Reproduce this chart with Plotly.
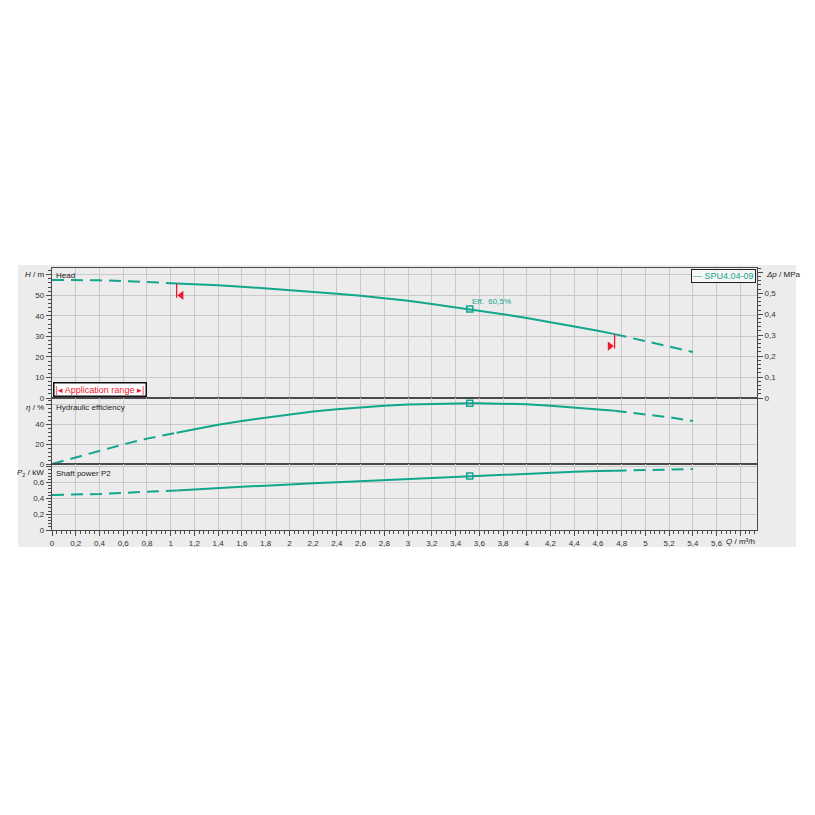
import plotly.graph_objects as go

# ---------------- data ----------------
Q = [0, 0.2, 0.4, 0.6, 0.8, 1.0, 1.05, 1.2, 1.4, 1.6, 1.8, 2.0, 2.2, 2.4, 2.6, 2.8,
     3.0, 3.2, 3.4, 3.52, 3.6, 3.8, 4.0, 4.2, 4.4, 4.6, 4.74, 4.8, 5.0, 5.2, 5.4]
HEAD = [57.5, 57.5, 57.3, 57.0, 56.6, 56.0, 55.8, 55.5, 54.9, 54.2, 53.4, 52.6, 51.7, 50.8,
        49.8, 48.6, 47.3, 45.8, 44.2, 43.3, 42.6, 40.8, 39.0, 37.0, 34.9, 32.7, 31.1, 30.3,
        28.0, 25.3, 22.4]
EFF = [0, 6.8, 13.4, 19.8, 25.6, 30.5, 31.6, 35.3, 39.6, 43.5, 46.8, 50.3, 53.0, 55.3,
       57.2, 58.8, 60.0, 60.8, 61.3, 61.4, 61.4, 61.0, 60.2, 58.8, 57.1, 55.2, 53.7, 52.9,
       50.4, 47.2, 43.4]
POWER = [0.443, 0.446, 0.455, 0.470, 0.484, 0.497, 0.500, 0.515, 0.534, 0.548, 0.560,
         0.578, 0.590, 0.603, 0.616, 0.631, 0.646, 0.660, 0.675, 0.684, 0.690, 0.701,
         0.713, 0.728, 0.737, 0.745, 0.749, 0.751, 0.757, 0.764, 0.772]

Q_MIN = 1.05          # application range start
Q_MAX = 4.74          # application range end
Q_BEP = 3.52          # duty point
EFF_LABEL = "Eff.  60,5%"
PUMP_NAME = "SPU4.04-09"

X_TICKVALS = [0, 0.2, 0.4, 0.6, 0.8, 1, 1.2, 1.4, 1.6, 1.8, 2, 2.2, 2.4, 2.6, 2.8, 3,
              3.2, 3.4, 3.6, 3.8, 4, 4.2, 4.4, 4.6, 4.8, 5, 5.2, 5.4, 5.6, 5.8]
X_TICKTEXT = ["0", "0,2", "0,4", "0,6", "0,8", "1", "1,2", "1,4", "1,6", "1,8", "2",
              "2,2", "2,4", "2,6", "2,8", "3", "3,2", "3,4", "3,6", "3,8", "4", "4,2",
              "4,4", "4,6", "4,8", "5", "5,2", "5,4", "5,6", " "]
H_TICKVALS = [0, 10, 20, 30, 40, 50, 60]
H_TICKTEXT = ["0", "10", "20", "30", "40", "50", " "]
E_TICKVALS = [0, 20, 40, 60]
E_TICKTEXT = ["0", "20", "40", " "]
P_TICKVALS = [0, 0.2, 0.4, 0.6, 0.8]
P_TICKTEXT = ["0", "0,2", "0,4", "0,6", " "]
DP_TICKVALS = [0, 0.1, 0.2, 0.3, 0.4, 0.5, 0.6]
DP_TICKTEXT = ["0", "0,1", "0,2", "0,3", "0,4", "0,5", " "]

M_PER_MPA = 101.97

# ---------------- styling ----------------
TEAL = "#12a68c"
RED = "#f0142d"
GRID = "#c9c9c9"
BG = "#ebebeb"
AXLINE = "#4a4a4a"
FONT = "Liberation Sans, Arial, sans-serif"
DASH = "12px,7px"

X_RANGE = [0, 5.94]
H_RANGE = [0, 63.3]
E_RANGE = [0, 66.6]
P_RANGE = [0, 0.835]
D1 = [0.5038, 1.0]
D2 = [0.2519, 0.5038]
D3 = [0.0, 0.2519]


def segments(q, v):
    left = [(a, b) for a, b in zip(q, v) if a <= Q_MIN]
    mid = [(a, b) for a, b in zip(q, v) if Q_MIN <= a <= Q_MAX]
    right = [(a, b) for a, b in zip(q, v) if a >= Q_MAX]
    return left, mid, right


fig = go.Figure()


def add_curve(vals, xa, ya):
    left, mid, right = segments(Q, vals)
    for seg, dash in ((left, DASH), (mid, "solid"), (right, DASH)):
        fig.add_trace(go.Scatter(
            x=[p[0] for p in seg], y=[p[1] for p in seg], mode="lines",
            line=dict(color=TEAL, width=2, dash=dash), xaxis=xa, yaxis=ya,
            showlegend=False, hoverinfo="skip"))
    i = Q.index(Q_BEP)
    fig.add_trace(go.Scatter(
        x=[Q_BEP], y=[vals[i]], mode="markers",
        marker=dict(symbol="square-open", size=6, color=TEAL, line=dict(width=1.5)),
        xaxis=xa, yaxis=ya, showlegend=False, hoverinfo="skip"))


add_curve(HEAD, "x", "y")
add_curve(EFF, "x2", "y2")
add_curve(POWER, "x3", "y3")

# application range markers
DROP = 7.0
h_min = HEAD[Q.index(Q_MIN)]
h_max = HEAD[Q.index(Q_MAX)]
for qq, hh, sym, off in ((Q_MIN, h_min, "triangle-left", 0.04),
                         (Q_MAX, h_max, "triangle-right", -0.04)):
    fig.add_trace(go.Scatter(x=[qq, qq], y=[hh, hh - DROP], mode="lines",
                             line=dict(color=RED, width=1.3), xaxis="x", yaxis="y",
                             showlegend=False, hoverinfo="skip"))
    fig.add_trace(go.Scatter(x=[qq + off], y=[hh - DROP + 1.2], mode="markers",
                             marker=dict(symbol=sym, size=8, color=RED),
                             xaxis="x", yaxis="y", showlegend=False, hoverinfo="skip"))

tickfont = dict(family=FONT, size=8, color="#333333")


def xaxis(anchor, show_labels):
    d = dict(range=X_RANGE, anchor=anchor, domain=[0, 1], showgrid=True, gridcolor=GRID,
             gridwidth=1, tickmode="array", tickvals=X_TICKVALS, ticktext=X_TICKTEXT,
             zeroline=False, showline=True, linecolor=AXLINE, linewidth=1.3, mirror=True,
             tickfont=tickfont)
    if show_labels:
        d.update(ticks="outside", ticklen=5, tickcolor=AXLINE, showticklabels=True,
                 minor=dict(dtick=0.04, tick0=0, ticks="outside", ticklen=3,
                            tickcolor=AXLINE, showgrid=False))
    else:
        d.update(ticks="", showticklabels=False)
    return d


def yaxis(rng, dom, tv, tt, mdtick, anchor):
    return dict(range=rng, domain=dom, anchor=anchor, tickmode="array", tickvals=tv,
                ticktext=tt, showgrid=True, gridcolor=GRID, gridwidth=1, zeroline=False,
                showline=True, linecolor=AXLINE, linewidth=1.3, mirror=True,
                ticks="outside", ticklen=5, tickcolor=AXLINE, tickfont=tickfont,
                minor=dict(dtick=mdtick, tick0=0, ticks="outside", ticklen=3,
                           tickcolor=AXLINE, showgrid=False))


fig.update_layout(
    width=807, height=807,
    margin=dict(l=44, r=58, t=260, b=285),
    paper_bgcolor="white", plot_bgcolor=BG,
    separators=",.",
    font=dict(family=FONT, size=8, color="#333333"),
    showlegend=False,
    xaxis=xaxis("y", False),
    xaxis2=xaxis("y2", False) | dict(matches="x"),
    xaxis3=xaxis("y3", True) | dict(matches="x"),
    yaxis=yaxis(H_RANGE, D1, H_TICKVALS, H_TICKTEXT, 2, "x"),
    yaxis2=yaxis(E_RANGE, D2, E_TICKVALS, E_TICKTEXT, 4, "x2"),
    yaxis3=yaxis(P_RANGE, D3, P_TICKVALS, P_TICKTEXT, 0.04, "x3"),
    yaxis4=dict(range=[H_RANGE[0] / M_PER_MPA, H_RANGE[1] / M_PER_MPA], overlaying="y",
                side="right", anchor="x", tickmode="array", tickvals=DP_TICKVALS,
                ticktext=DP_TICKTEXT, showgrid=False,
                zeroline=False, showline=False, ticks="outside", ticklen=5,
                tickcolor=AXLINE, tickfont=tickfont,
                minor=dict(dtick=0.02, tick0=0, ticks="outside", ticklen=3,
                           tickcolor=AXLINE, showgrid=False)),
)
# dummy trace to activate the right axis
fig.add_trace(go.Scatter(x=[None], y=[None], xaxis="x", yaxis="y4", showlegend=False))

# outer grey panel
fig.add_shape(type="rect", xref="paper", yref="paper", x0=-0.0482, x1=1.0553,
              y0=-0.065, y1=1.0115, fillcolor="#ececec", line=dict(width=0),
              layer="below")

ann = []
lab = dict(family=FONT, size=8, color="#222222")
ann.append(dict(xref="paper", yref="y", x=0, y=H_TICKVALS[-1], xanchor="right",
                yanchor="middle", xshift=-6, text="<i>H</i> / m", showarrow=False, font=lab))
ann.append(dict(xref="paper", yref="paper", x=0, y=D1[1], xanchor="left", yanchor="top",
                xshift=2, yshift=-1, text="Head", showarrow=False, font=lab))
ann.append(dict(xref="paper", yref="y2", x=0, y=E_TICKVALS[-1], xanchor="right",
                yanchor="middle", xshift=-6, yshift=-3, text="<i>η</i> / %",
                showarrow=False, font=lab))
ann.append(dict(xref="paper", yref="paper", x=0, y=D2[1], xanchor="left", yanchor="top",
                xshift=2, yshift=-3, text="Hydraulic efficiency", showarrow=False, font=lab))
ann.append(dict(xref="paper", yref="y3", x=0, y=P_TICKVALS[-1], xanchor="right",
                yanchor="middle", xshift=-6, yshift=-6, text="<i>P</i><sub>2</sub> / kW",
                showarrow=False, font=lab))
ann.append(dict(xref="paper", yref="paper", x=0, y=D3[1], xanchor="left", yanchor="top",
                xshift=2, yshift=-3, text="Shaft power P2", showarrow=False, font=lab))
ann.append(dict(xref="paper", yref="y4", x=1, y=DP_TICKVALS[-1], xanchor="left",
                yanchor="middle", xshift=7, yshift=-2, text="<i>Δp</i> / MPa",
                showarrow=False, font=lab))
ann.append(dict(xref="x3", yref="paper", x=X_TICKVALS[-1], y=0, xanchor="center",
                yanchor="top", yshift=-5, text="<i>Q</i> / m³/h", showarrow=False,
                font=lab))
ann.append(dict(xref="x", yref="y", x=Q_BEP, y=HEAD[Q.index(Q_BEP)], xanchor="left",
                yanchor="bottom", xshift=0, yshift=1, text=EFF_LABEL, showarrow=False,
                font=dict(family=FONT, size=8, color=TEAL)))
ann.append(dict(xref="paper", yref="paper", x=1, y=D1[1], xanchor="right", yanchor="top",
                xshift=-1, yshift=-1, text="— " + PUMP_NAME, showarrow=False,
                font=dict(family=FONT, size=9, color=TEAL), bgcolor="#f6f6f6",
                bordercolor="#222222", borderwidth=1, borderpad=1))
ann.append(dict(xref="paper", yref="paper", x=0, y=D1[0], xanchor="left", yanchor="bottom",
                xshift=1, yshift=1, text="|◂ Application range ▸|", showarrow=False,
                font=dict(family=FONT, size=9, color=RED), bgcolor="white",
                bordercolor="#111111", borderwidth=1.5, borderpad=1))
fig.update_layout(annotations=ann)

fig.write_html("out.html")
